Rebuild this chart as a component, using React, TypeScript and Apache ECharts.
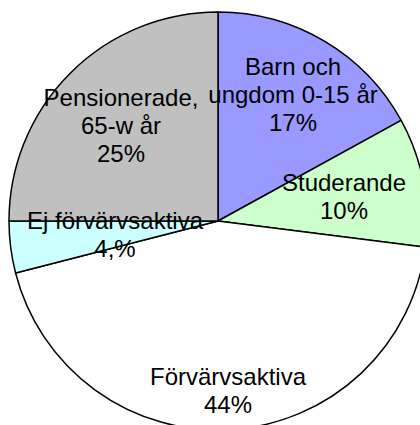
import React, { useEffect, useRef } from "react";
import * as echarts from "echarts";

const categories = [
  "Barn och\nungdom 0-15 år",
  "Studerande",
  "Förvärvsaktiva",
  "Ej förvärvsaktiva",
  "Pensionerade,\n65-w år",
];
const values = [17, 10, 44, 4, 25];
const percentLabels = ["17%", "10%", "44%", "4,%", "25%"];
const colors = ["#9999FF", "#CCFFCC", "#FFFFFF", "#CCFFFF", "#C0C0C0"];
const labelCenters: [number, number][] = [
  [293, 94],
  [344, 196],
  [228, 390],
  [115, 234],
  [121, 125],
];

export default function App() {
  const ref = useRef<HTMLDivElement>(null);
  useEffect(() => {
    document.body.style.margin = "0";
    if (!ref.current) return;
    const chart = echarts.init(ref.current, null, { renderer: "svg" });
    chart.setOption({
      animation: false,
      backgroundColor: "#FFFFFF",
      series: [
        {
          type: "pie",
          center: [218, 221],
          radius: 209,
          startAngle: 90,
          clockwise: true,
          silent: true,
          data: categories.map((c, i) => ({
            name: c,
            value: values[i],
            itemStyle: { color: colors[i] },
          })),
          itemStyle: { borderColor: "#000000", borderWidth: 1.5 },
          label: {
            show: true,
            position: "inside",
            color: "#000000",
            fontFamily: "Liberation Sans, Arial, sans-serif",
            fontSize: 24,
            lineHeight: 28,
            align: "center",
            formatter: (p: any) => p.name + "\n" + percentLabels[p.dataIndex],
          },
          labelLine: { show: false },
          labelLayout: (p: any) => ({
            x: labelCenters[p.dataIndex][0],
            y: labelCenters[p.dataIndex][1],
            align: "center",
            verticalAlign: "middle",
          }),
        },
      ],
    });
    return () => chart.dispose();
  }, []);
  return <div ref={ref} style={{ width: 420, height: 425 }} />;
}
